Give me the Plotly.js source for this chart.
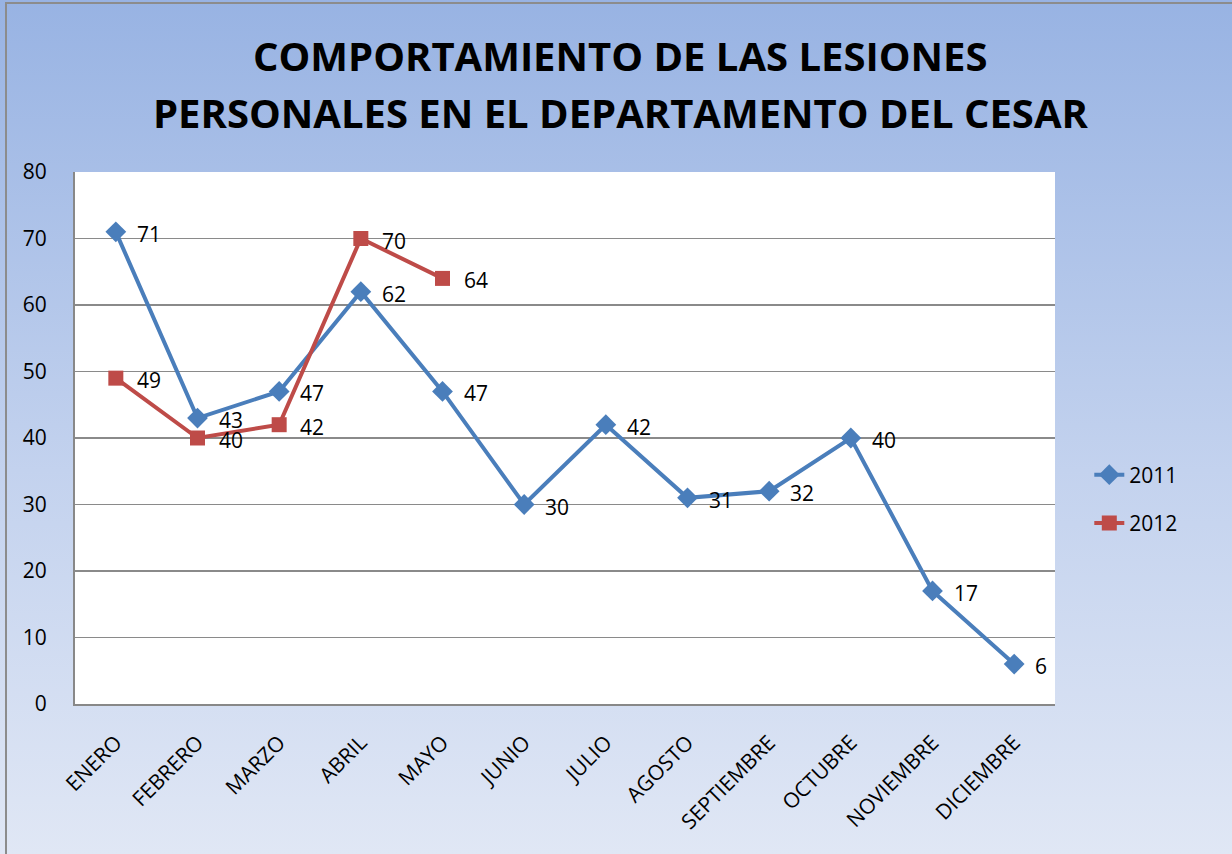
<!DOCTYPE html>
<html>
<head>
<meta charset="utf-8">
<script src="https://cdn.plot.ly/plotly-3.0.1.min.js"></script>
<style>
  html, body { margin: 0; padding: 0; width: 1232px; height: 854px; overflow: hidden; }
  body { background: linear-gradient(to bottom, #98b3e3 0%, #c3d2ee 55%, #e0e7f5 100%); }
  #frame { position: absolute; left: 5px; top: 2px; width: 1240px; height: 870px; border: 2px solid #8c8c8c; box-sizing: border-box; }
  #chart { position: absolute; left: 0; top: 0; width: 1232px; height: 854px; }
</style>
</head>
<body>
<div id="frame"></div>
<div id="chart"></div>
<script>
const months = ["ENERO","FEBRERO","MARZO","ABRIL","MAYO","JUNIO","JULIO","AGOSTO","SEPTIEMBRE","OCTUBRE","NOVIEMBRE","DICIEMBRE"];
const values2011 = [71, 43, 47, 62, 47, 30, 42, 31, 32, 40, 17, 6];
const values2012 = [49, 40, 42, 70, 64];
const yTicks = [0, 10, 20, 30, 40, 50, 60, 70, 80];
const titleLines = ["COMPORTAMIENTO DE LAS LESIONES", "PERSONALES EN EL DEPARTAMENTO DEL CESAR"];

const blue = '#4a7ebb';
const red = '#be4b48';
const FONT = 'Open Sans, sans-serif';

const traces = [
  {
    x: months, y: values2011, name: '2011', type: 'scatter', mode: 'lines+markers',
    legendgroup: 'g2011',
    line: {color: blue, width: 4},
    marker: {symbol: 'diamond', size: 16, color: blue}
  },
  {
    x: months.slice(0, values2012.length), y: values2012, name: '2012', type: 'scatter', mode: 'lines+markers',
    legendgroup: 'g2012',
    line: {color: red, width: 4},
    marker: {symbol: 'square', size: 15, color: red}
  }
];

const annotations = [];
function addLabels(vals) {
  vals.forEach((v, i) => annotations.push({
    x: months[i], y: v, xref: 'x', yref: 'y', text: String(v), showarrow: false,
    xanchor: 'left', xshift: 19, yshift: -2,
    font: {family: FONT, size: 21, color: '#000'}
  }));
}
addLabels(values2011);
addLabels(values2012);
const titleY = [55, 112];
titleLines.forEach((t, i) => annotations.push({
  text: '<b>' + t + '</b>', xref: 'paper', yref: 'paper', showarrow: false,
  x: (620 - 75) / 980, xanchor: 'center',
  y: (704 - titleY[i]) / 532, yanchor: 'middle',
  font: {family: FONT, size: 40, color: '#000'}
}));

const layout = {
  width: 1232, height: 854,
  paper_bgcolor: 'rgba(0,0,0,0)',
  plot_bgcolor: '#ffffff',
  margin: {l: 75, r: 177, t: 172, b: 150},
  xaxis: {
    type: 'category', categoryarray: months, range: [-0.5, 11.5],
    tickangle: -45, showgrid: false, showline: true, linecolor: '#888', linewidth: 2,
    ticks: '', ticklabelstandoff: 16,
    tickfont: {family: FONT, size: 21, color: '#000'}
  },
  yaxis: {
    range: [0, 80], tickvals: yTicks, showgrid: true, gridcolor: '#8a8a8a', gridwidth: 1.5,
    zeroline: false, showline: true, linecolor: '#888', linewidth: 2,
    ticks: '', ticklabelstandoff: 22,
    tickfont: {family: FONT, size: 21, color: '#000'}
  },
  legend: {
    x: 1.035, xanchor: 'left', y: (704 - 499) / 532, yanchor: 'middle',
    bgcolor: 'rgba(0,0,0,0)', tracegroupgap: 18,
    font: {family: FONT, size: 21, color: '#000'}
  },
  annotations: annotations,
  showlegend: true
};

Plotly.newPlot('chart', traces, layout, {displayModeBar: false, staticPlot: true});
</script>
</body>
</html>
